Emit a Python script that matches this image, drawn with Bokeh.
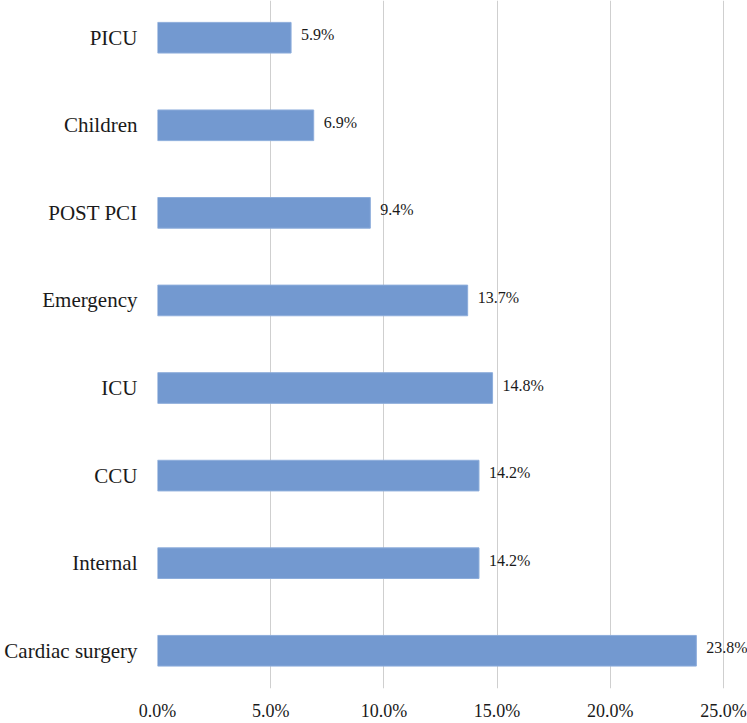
from bokeh.plotting import figure
from bokeh.models import Range1d, FixedTicker, ColumnDataSource, LabelSet
from bokeh.embed import file_html
from bokeh.resources import INLINE

categories = ["Cardiac surgery", "Internal", "CCU", "ICU", "Emergency", "POST PCI", "Children", "PICU"]
values = [23.8, 14.2, 14.2, 14.8, 13.7, 9.4, 6.9, 5.9]
x_ticks = [0, 5, 10, 15, 20, 25]
x_tick_labels = ["0.0%", "5.0%", "10.0%", "15.0%", "20.0%", "25.0%"]

FONT = "Liberation Serif"
pos = list(range(len(categories)))
src = ColumnDataSource(dict(y=pos, v=values, lab=[f"{v:.1f}%" for v in values], cat=categories))

p = figure(width=747, height=723, output_backend="svg", toolbar_location=None,
           x_range=Range1d(0, 26.06), y_range=Range1d(-0.431, 7.425),
           min_border_left=157, min_border_right=0, min_border_top=0, min_border_bottom=30)
p.outline_line_color = None
p.background_fill_color = "white"

p.hbar(y="y", right="v", left=0, height=0.35, source=src, fill_color="#7399D0",
       line_color="#8DADDB", line_width=1)

labels = LabelSet(x="v", y="y", text="lab", source=src, x_offset=10, y_offset=3,
                  text_font=FONT, text_font_size="16px", text_color="#1a1a1a",
                  text_baseline="middle", text_align="left")
p.add_layout(labels)

p.xaxis.ticker = FixedTicker(ticks=x_ticks)
p.xaxis.major_label_overrides = {t: l for t, l in zip(x_ticks, x_tick_labels)}
p.yaxis.ticker = FixedTicker(ticks=pos)
p.yaxis.major_label_overrides = {i: c for i, c in zip(pos, categories)}

for ax in (p.xaxis, p.yaxis):
    ax.axis_line_color = None
    ax.major_tick_line_color = None
    ax.minor_tick_line_color = None
    ax.major_tick_in = 0
    ax.major_tick_out = 0
    ax.minor_tick_in = 0
    ax.minor_tick_out = 0
    ax.major_label_text_font = FONT
    ax.major_label_text_color = "#1a1a1a"
p.xaxis.major_label_text_font_size = "18px"
p.yaxis.major_label_text_font_size = "21px"
p.xaxis.major_label_standoff = 12
p.yaxis.major_label_standoff = 20

p.ygrid.grid_line_color = None
p.xgrid.grid_line_color = "#CFCFCF"
p.xgrid.grid_line_width = 1

open("out.html", "w").write(file_html(p, INLINE))
